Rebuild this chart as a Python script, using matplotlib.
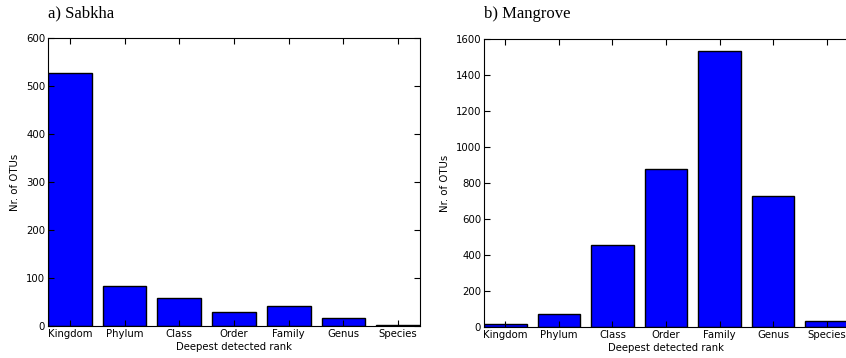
import matplotlib
matplotlib.use('Agg')
import matplotlib.pyplot as plt
import numpy as np

ranks = ['Kingdom', 'Phylum', 'Class', 'Order', 'Family', 'Genus', 'Species']
sabkha = [527, 83, 58, 30, 42, 16, 2]
mangrove = [15, 74, 455, 878, 1533, 728, 32]

plt.rcParams['font.family'] = 'DejaVu Sans'
plt.rcParams['xtick.direction'] = 'in'
plt.rcParams['ytick.direction'] = 'in'

fig = plt.figure(figsize=(8.46, 3.58), dpi=100)
ax1 = fig.add_axes([48/846, 1-326/358, 372/846, 288/358])
ax2 = fig.add_axes([484/846, 1-327/358, 364/846, 288/358])

def draw(ax, values, title, ymax, step):
    x = np.arange(len(ranks))
    ax.bar(x, values, width=0.8, color='#0000ff', edgecolor='black', linewidth=1)
    ax.set_xlim(-0.4, len(ranks) - 0.6)
    ax.set_ylim(0, ymax)
    ax.set_yticks(np.arange(0, ymax + 1, step))
    ax.set_xticks(x)
    ax.set_xticklabels(ranks)
    ax.tick_params(labelsize=7.3, top=True, right=True, length=4, width=0.8, pad=2)
    ax.set_xlabel('Deepest detected rank', fontsize=7.3, labelpad=2)
    ax.set_ylabel('Nr. of OTUs', fontsize=7.3)
    ax.set_title(title, loc='left', family='Liberation Serif', fontsize=12, pad=15)

draw(ax1, sabkha, 'a) Sabkha', 600, 100)
draw(ax2, mangrove, 'b) Mangrove', 1600, 200)
# right edge of the second panel runs off the figure
ax2.tick_params(right=False)
ax2.spines['right'].set_visible(False)

fig.savefig('out.png', dpi=100)
